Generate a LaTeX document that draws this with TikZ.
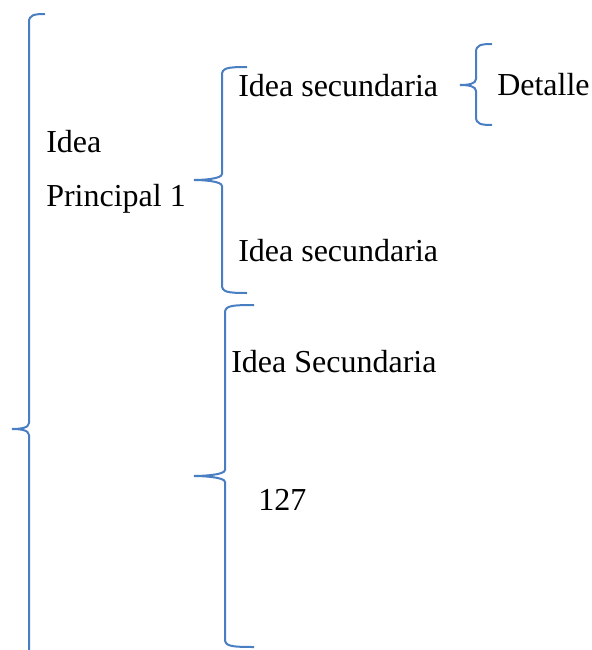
\documentclass[tikz,border=0pt]{standalone}
\usepackage{fontspec}
\setmainfont{Liberation Serif}
\definecolor{bracecol}{HTML}{4A7EC2}
\newcommand\mybrace[6]{% spine x, y top, y tip, y bottom, x hook end, x tip
  \draw[bracestyle] (#5,#2) .. controls ({#1+5},#2) and (#1,{#2+1}) .. (#1,{#2+8})
    -- (#1,{#3-6}) .. controls (#1,{#3-1}) and ({#6+8},#3) .. (#6,#3)
    .. controls ({#6+8},#3) and (#1,{#3+1}) .. (#1,{#3+6})
    -- (#1,{#4-8}) .. controls (#1,{#4-1}) and ({#1+5},#4) .. (#5,#4);
}
\begin{document}
\begin{tikzpicture}[x=0.75pt,y=-0.75pt,
  bracestyle/.style={draw=bracecol,line width=1.5pt},
  lbl/.style={anchor=base west,inner sep=0pt,font=\fontsize{24}{29}\selectfont}]
\useasboundingbox (0,0) rectangle (592,650);
\begin{scope}
\clip (0,0) rectangle (592,650);
\mybrace{29}{14}{429}{690}{45}{12}
\end{scope}
\mybrace{222}{67}{180}{293}{247}{194}
\mybrace{225}{305}{476}{647}{254}{194}
\mybrace{476}{44}{85}{125}{492}{460}
\node[lbl] (idea) at (46,152) {Idea};
\node[lbl] (princ) at (46,206) {Principal 1};
\node[lbl] (sec1) at (238,96) {Idea secundaria};
\node[lbl] (det) at (497,95) {Detalle};
\node[lbl] (sec2) at (238,261) {Idea secundaria};
\node[lbl] (sec3) at (231,372) {Idea Secundaria};
\node[lbl] (num) at (258,510) {127};
\end{tikzpicture}
\end{document}
